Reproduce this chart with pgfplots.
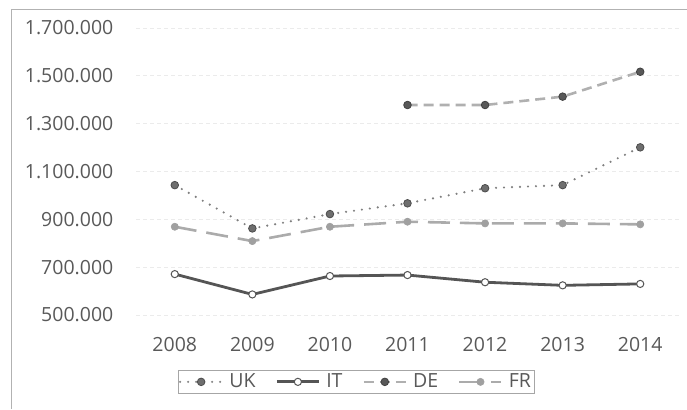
\documentclass[border=0pt]{standalone}
\usepackage{pgfplots}
\pgfplotsset{compat=1.18}
\usepackage{fontspec}
\setmainfont{Open Sans}
\definecolor{txt}{HTML}{595959}
\definecolor{ukline}{HTML}{7F7F7F}
\definecolor{ukmark}{HTML}{6E6E6E}
\definecolor{itline}{HTML}{555555}
\definecolor{deline}{HTML}{B0B0B0}
\definecolor{demark}{HTML}{585858}
\definecolor{frline}{HTML}{ABABAB}
\definecolor{frmark}{HTML}{A0A0A0}
\begin{document}
\fontsize{19.5}{23}\selectfont
\begin{tikzpicture}[x=1pt,y=1pt]
\useasboundingbox (0,0) rectangle (687,409);
\draw[color=black!30, line width=0.8pt] (11,0) -- (11,400) -- (687,400);
\begin{axis}[
  at={(136pt,94pt)}, anchor=south west,
  scale only axis, width=543pt, height=287pt,
  xmin=2007.5, xmax=2014.5, ymin=500000, ymax=1700000,
  xtick={2008,...,2014}, ytick={500000,700000,...,1700000},
  scaled y ticks=false, scaled x ticks=false,
  axis line style={draw=none}, tick style={draw=none},
  ymajorgrids, grid style={color=black!8, dash pattern=on 4pt off 3pt, line width=0.8pt},
  xticklabel={\pgfmathprintnumber[1000 sep={}]{\tick}},
  yticklabel={\pgfmathprintnumber[fixed, 1000 sep={.}, precision=0]{\tick}},
  /pgf/number format/assume math mode=true,
  ticklabel style={font=\fontsize{19.5}{23}\selectfont, text=txt},
  yticklabel style={xshift=-16pt},
  xticklabel style={yshift=-16pt},
  legend columns=4,
  legend style={at={(0.405,-0.233)}, anchor=center, draw=black!35, font=\fontsize{19.5}{23}\selectfont, text=txt, inner sep=1pt, row sep=0pt,
    /tikz/every odd column/.append style={column sep=4pt},
    /tikz/every even column/.append style={column sep=18pt}},
  legend image code/.code={\draw[mark repeat=2,mark phase=2] plot coordinates {(0pt,0pt) (21pt,0pt) (42pt,0pt)};},
]
\addplot[color=ukline, line width=2.4pt, dash pattern=on 0pt off 8pt, line cap=round, mark=*, mark size=3.8pt, mark options={solid, fill=ukmark, draw=black!70, line width=0.8pt}]
 coordinates {(2008,1043000) (2009,862000) (2010,922000) (2011,967000) (2012,1030000) (2013,1043000) (2014,1201000)};
\addlegendentry{UK}
\addplot[color=itline, line width=2.8pt, mark=*, mark size=3.6pt, mark options={solid, fill=white, draw=itline, line width=1pt}]
 coordinates {(2008,671000) (2009,586000) (2010,663000) (2011,667000) (2012,637000) (2013,624000) (2014,630000)};
\addlegendentry{IT}
\addplot[color=deline, line width=2.6pt, dash pattern=on 10pt off 6pt, mark=*, mark size=3.8pt, mark options={solid, fill=demark, draw=black!75, line width=0.8pt}]
 coordinates {(2011,1378000) (2012,1378000) (2013,1413000) (2014,1517000)};
\addlegendentry{DE}
\addplot[color=frline, line width=2.6pt, dash pattern=on 22pt off 10pt, mark=*, mark size=3.6pt, mark options={solid, fill=frmark, draw=frmark, line width=0.6pt}]
 coordinates {(2008,869000) (2009,809000) (2010,869000) (2011,890000) (2012,883000) (2013,883000) (2014,879000)};
\addlegendentry{FR}
\end{axis}
\end{tikzpicture}
\end{document}
